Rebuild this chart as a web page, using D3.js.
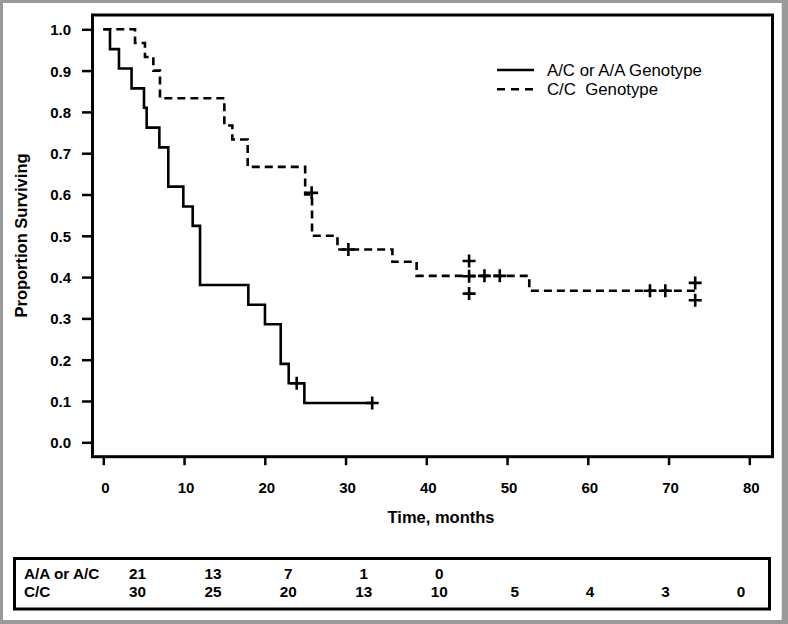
<!DOCTYPE html>
<html><head><meta charset="utf-8">
<script src="https://cdn.jsdelivr.net/npm/d3@7"></script>
<style>
html,body{margin:0;padding:0;background:#fff;}
svg text{font-family:"Liberation Sans",Arial,sans-serif;fill:#000;}
</style></head><body>
<svg id="chart" width="788" height="624"></svg>
<script>
// ---------- data ----------
const seriesNames = ["A/C or A/A Genotype", "C/C  Genotype"];
const acTimes = [0, 0.83, 1.94, 3.5, 5.04, 5.37, 6.94, 8.05, 9.91, 11.07, 11.98, 17.96, 20.02, 21.97, 22.96, 24.9, 33.3];
const acSurv  = [1.0, 0.952, 0.905, 0.857, 0.810, 0.762, 0.714, 0.619, 0.571, 0.524, 0.381, 0.333, 0.286, 0.190, 0.143, 0.095, 0.095];
const acCensorTimes = [23.95, 33.3];
const acCensorSurv  = [0.143, 0.095];
const ccTimes = [0, 3.93, 5.16, 6.2, 7.02, 14.99, 15.98, 17.88, 25.0, 25.85, 29.0, 35.8, 38.8, 52.75, 73.3];
const ccSurv  = [1.0, 0.967, 0.933, 0.900, 0.833, 0.767, 0.733, 0.667, 0.600, 0.500, 0.467, 0.437, 0.403, 0.367, 0.367];
const ccCensorTimes = [25.8, 30.35, 45.3, 45.3, 45.3, 47.2, 49.1, 67.7, 69.6, 73.3, 73.3];
const ccCensorSurv  = [0.604, 0.467, 0.439, 0.402, 0.360, 0.403, 0.403, 0.367, 0.367, 0.386, 0.344];
const xTicks = [0, 10, 20, 30, 40, 50, 60, 70, 80];
const yTicks = [0, 0.1, 0.2, 0.3, 0.4, 0.5, 0.6, 0.7, 0.8, 0.9, 1.0];
const xTitle = "Time, months";
const yTitle = "Proportion Surviving";
const riskTimes = [0, 10, 20, 30, 40, 50, 60, 70, 80];
const riskLabels = ["A/A or A/C", "C/C"];
const riskAC = [21, 13, 7, 1, 0];
const riskCC = [30, 25, 20, 13, 10, 5, 4, 3, 0];

// ---------- layout ----------
const svg = d3.select("#chart");
const W = 788, H = 624;
const frame = {l: 92.5, r: 772.5, t: 15, b: 456.7};
const x = d3.scaleLinear().domain([0, 80]).range([103.3, 749.3]);
const y = d3.scaleLinear().domain([0, 1]).range([442.3, 29.3]);
const font = '"Liberation Sans", Arial, sans-serif';

// outer grey border
svg.append("rect").attr("x", 0).attr("y", 0).attr("width", W).attr("height", H).attr("fill", "#9a9a9a");
svg.append("rect").attr("x", 3).attr("y", 3).attr("width", 778.7).attr("height", 617).attr("fill", "#fff");

// plot frame
svg.append("rect").attr("x", frame.l).attr("y", frame.t)
  .attr("width", frame.r - frame.l).attr("height", frame.b - frame.t)
  .attr("fill", "none").attr("stroke", "#000").attr("stroke-width", 3);

// y axis
const yAxis = svg.append("g").attr("transform", `translate(${frame.l},0)`)
  .call(d3.axisLeft(y).tickValues(yTicks).tickFormat(d3.format(".1f")).tickSize(10.5).tickPadding(11));
yAxis.select(".domain").remove();
yAxis.selectAll(".tick line").attr("stroke", "#000").attr("stroke-width", 2.5);
yAxis.selectAll(".tick text").attr("font-family", font).attr("font-size", 15).attr("font-weight", "bold").attr("dy", "0.36em");

// x axis
const xAxis = svg.append("g").attr("transform", `translate(0,${frame.b})`)
  .call(d3.axisBottom(x).tickValues(xTicks).tickFormat(d3.format("d")).tickSize(8.5));
xAxis.select(".domain").remove();
xAxis.selectAll(".tick line").attr("stroke", "#000").attr("stroke-width", 2.5);
xAxis.selectAll(".tick text").attr("font-family", font).attr("font-size", 15).attr("font-weight", "bold")
  .attr("y", 36.3).attr("dy", 0).attr("dx", 1.5);

// axis titles
svg.append("text").attr("x", 441).attr("y", 523).attr("text-anchor", "middle")
  .attr("font-size", 16.5).attr("font-weight", "bold").text(xTitle);
svg.append("text").attr("transform", "translate(26.5,235.5) rotate(-90)").attr("text-anchor", "middle")
  .attr("font-size", 16.5).attr("font-weight", "bold").text(yTitle);

// curves
const line = d3.line().x(d => x(d[0])).y(d => y(d[1])).curve(d3.curveStepAfter);
const acPts = acTimes.map((t, i) => [t, acSurv[i]]);
const ccPts = ccTimes.map((t, i) => [t, ccSurv[i]]);
svg.append("path").attr("d", line(acPts)).attr("fill", "none").attr("stroke", "#000")
  .attr("stroke-width", 2.6).attr("stroke-linejoin", "miter");
svg.append("path").attr("d", line(ccPts)).attr("fill", "none").attr("stroke", "#000")
  .attr("stroke-width", 2.6).attr("stroke-dasharray", "8,5");

// censor marks
const plus = "M-6.5,0H6.5M0,-6.5V6.5";
function censors(ts, ss) {
  svg.append("g").selectAll("path").data(ts.map((t, i) => [t, ss[i]])).join("path")
    .attr("d", plus).attr("transform", d => `translate(${x(d[0])},${y(d[1])})`)
    .attr("fill", "none").attr("stroke", "#000").attr("stroke-width", 2.6);
}
censors(acCensorTimes, acCensorSurv);
censors(ccCensorTimes, ccCensorSurv);

// legend
const leg = svg.append("g");
const legDash = [null, "8,6"];
seriesNames.forEach((name, i) => {
  const ly = 70 + i * 19.3;
  leg.append("line").attr("x1", 497).attr("x2", 534).attr("y1", ly).attr("y2", ly)
    .attr("stroke", "#000").attr("stroke-width", 2.6).attr("stroke-dasharray", legDash[i]);
  leg.append("text").attr("x", 547).attr("y", ly + 5.6).attr("font-size", 16.8)
    .attr("xml:space", "preserve").style("white-space", "pre").text(name);
});

// number at risk table
svg.append("rect").attr("x", 14.5).attr("y", 558.5).attr("width", 755).attr("height", 50.5)
  .attr("fill", "none").attr("stroke", "#000").attr("stroke-width", 3);
const rx = d3.scaleLinear().domain([0, 80]).range([137.5, 741]);
const rows = [riskAC, riskCC];
rows.forEach((vals, r) => {
  const by = 579 + r * 18.3;
  svg.append("text").attr("x", 24).attr("y", by).attr("font-size", 15.3).attr("font-weight", "bold").text(riskLabels[r]);
  svg.append("g").selectAll("text").data(vals).join("text")
    .attr("x", (d, i) => rx(riskTimes[i])).attr("y", by).attr("text-anchor", "middle")
    .attr("font-size", 15.3).attr("font-weight", "bold").text(d => d);
});
</script>
</body></html>
